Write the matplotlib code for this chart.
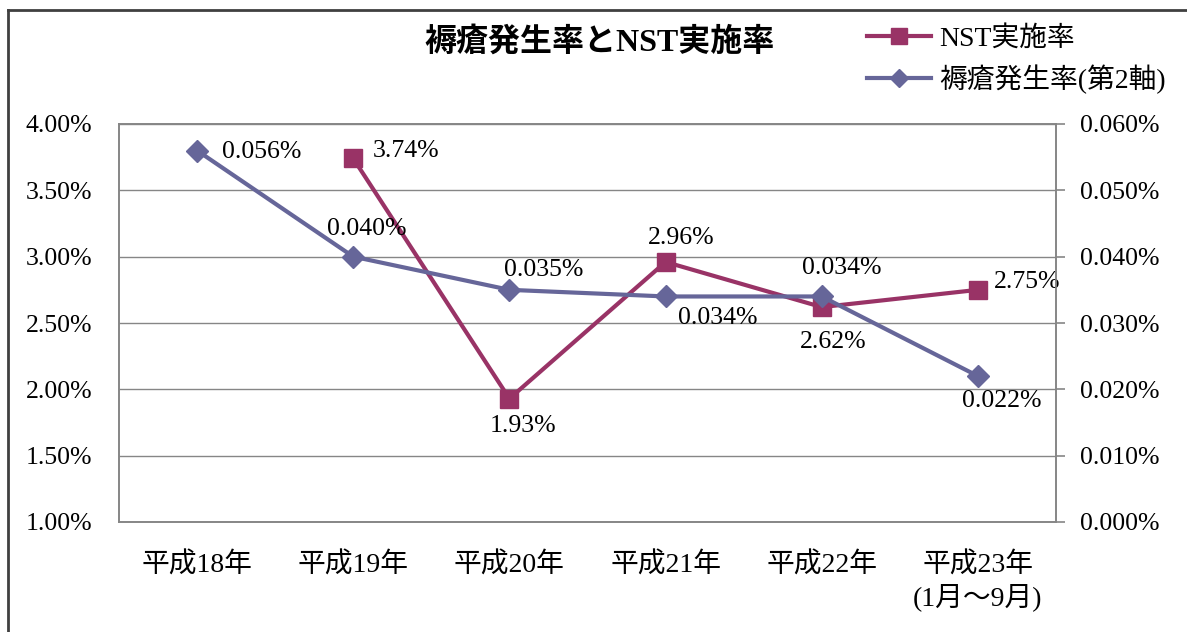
import matplotlib
matplotlib.use("Agg")
import matplotlib.pyplot as plt
from matplotlib.lines import Line2D
from matplotlib.ticker import FuncFormatter

plt.rcParams['font.family'] = ['Liberation Serif', 'Noto Sans CJK JP']

categories = ['平成18年', '平成19年', '平成20年', '平成21年', '平成22年', '平成23年\n(1月～9月)']
nst_rate = [None, 3.74, 1.93, 2.96, 2.62, 2.75]          # % (left axis)
ulcer_rate = [0.056, 0.040, 0.035, 0.034, 0.034, 0.022]  # % (right axis)
nst_labels = [None, '3.74%', '1.93%', '2.96%', '2.62%', '2.75%']
ulcer_labels = ['0.056%', '0.040%', '0.035%', '0.034%', '0.034%', '0.022%']

title = '褥瘡発生率とNST実施率'
nst_name = 'NST実施率'
ulcer_name = '褥瘡発生率(第2軸)'

c_nst = '#993366'
c_ulc = '#666699'
grid_c = '#868686'

NUM_FS = 18.5
CJK_FS = 20

W, H = 1187, 632
fig = plt.figure(figsize=(W / 100, H / 100), dpi=100)
ax = fig.add_axes([119 / W, 1 - 522 / H, (1056 - 119) / W, (522 - 124) / H])
ax2 = ax.twinx()

x = list(range(len(categories)))
xs_n = [xi for xi, v in zip(x, nst_rate) if v is not None]
ys_n = [v for v in nst_rate if v is not None]

ax.set_xlim(-0.5, len(categories) - 0.5)
ax.set_ylim(1.0, 4.0)
ax.set_yticks([1.0, 1.5, 2.0, 2.5, 3.0, 3.5, 4.0])
ax.yaxis.set_major_formatter(FuncFormatter(lambda v, p: f'{v:.2f}%'))
ax2.set_ylim(0, 0.06)
ax2.set_yticks([0, 0.01, 0.02, 0.03, 0.04, 0.05, 0.06])
ax2.yaxis.set_major_formatter(FuncFormatter(lambda v, p: f'{v:.3f}%'))

ax.grid(axis='y', color=grid_c, lw=1.0)
ax.set_axisbelow(True)
ax.set_xticks(x)
ax.set_xticklabels(categories, fontsize=CJK_FS, linespacing=1.2)
ax.tick_params(axis='x', length=0, pad=22)
ax.tick_params(axis='y', labelsize=NUM_FS, length=0, pad=19)
ax2.tick_params(axis='y', labelsize=NUM_FS, length=6.5, width=1.2, color=grid_c,
                direction='out', pad=11)
for a in (ax, ax2):
    for s in a.spines.values():
        s.set_color(grid_c)
        s.set_linewidth(1.2)

ax.plot(xs_n, ys_n, color=c_nst, lw=3, marker='s', ms=13, zorder=5)
ax2.plot(x, ulcer_rate, color=c_ulc, lw=3, marker='D', ms=11, zorder=5)

PX = 0.72  # points per pixel
nst_off = [None, (53, 7), (14, -27), (16, 24), (11, -35), (49, 8)]
for xi, v, lab, off in zip(x, nst_rate, nst_labels, nst_off):
    if v is None:
        continue
    ax.annotate(lab, (xi, v), xytext=(off[0] * PX, off[1] * PX), textcoords='offset points',
                ha='center', va='center', fontsize=NUM_FS, zorder=6)

ulc_off = [(65, -1), (14, 28), (34, 20), (52, -22), (20, 28), (24, -25)]
for xi, v, lab, off in zip(x, ulcer_rate, ulcer_labels, ulc_off):
    ax2.annotate(lab, (xi, v), xytext=(off[0] * PX, off[1] * PX), textcoords='offset points',
                 ha='center', va='center', fontsize=NUM_FS, zorder=6)

fig.text(600 / W, 1 - 42 / H, title, ha='center', va='center', fontsize=23, fontweight='bold')

handles = [Line2D([], [], color=c_nst, lw=3, marker='s', ms=11),
           Line2D([], [], color=c_ulc, lw=3, marker='D', ms=9)]
fig.legend(handles, [nst_name, ulcer_name], loc='upper left',
           bbox_to_anchor=(856 / W, 1 - 15 / H), frameon=False, fontsize=CJK_FS,
           handlelength=2.3, labelspacing=0.45, handletextpad=0.3, borderaxespad=0)

# outer frame
fig.add_artist(Line2D([8 / W, 1.0], [1 - 10 / H, 1 - 10 / H], color='#404040', lw=2, transform=fig.transFigure))
fig.add_artist(Line2D([8 / W, 8 / W], [0, 1 - 10 / H], color='#404040', lw=2, transform=fig.transFigure))

fig.savefig('out.png', dpi=100)
